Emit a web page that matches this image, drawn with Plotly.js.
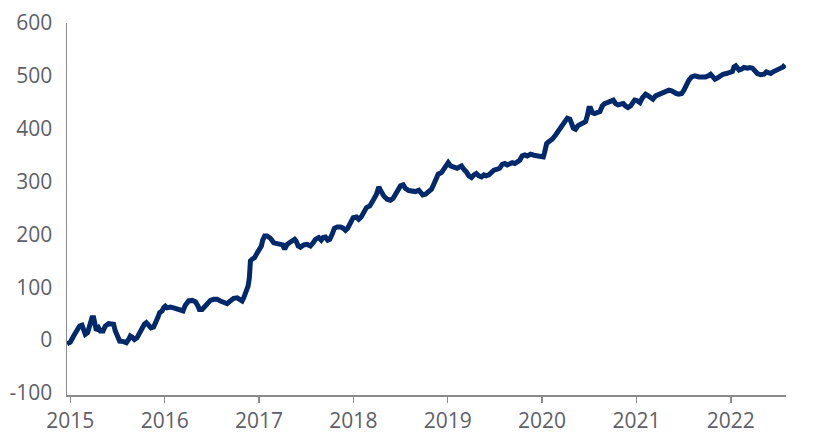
<!DOCTYPE html>
<html>
<head>
<meta charset="utf-8">
<script src="https://cdn.plot.ly/plotly-3.0.1.min.js"></script>
<style>
  html, body { margin: 0; padding: 0; background: #ffffff; }
  #chart { width: 817px; height: 441px; }
</style>
</head>
<body>
<div id="chart"></div>
<script>
// Decimal-year positions of the observations
const years = [
  2014.965, 2015.000, 2015.035, 2015.071, 2015.099, 2015.124, 2015.141, 2015.159, 2015.183, 2015.205,
  2015.230, 2015.247, 2015.265, 2015.276, 2015.300, 2015.318, 2015.347, 2015.371, 2015.406, 2015.442,
  2015.459, 2015.477, 2015.502, 2015.523, 2015.565, 2015.594, 2015.618, 2015.636, 2015.654, 2015.679,
  2015.707, 2015.735, 2015.760, 2015.785, 2015.806, 2015.830, 2015.856, 2015.883, 2015.901, 2015.926,
  2015.947, 2015.972, 2015.989, 2016.007, 2016.025, 2016.060, 2016.095, 2016.131, 2016.166, 2016.195,
  2016.219, 2016.254, 2016.291, 2016.326, 2016.354, 2016.368, 2016.397, 2016.424, 2016.450, 2016.485,
  2016.520, 2016.556, 2016.591, 2016.626, 2016.662, 2016.697, 2016.732, 2016.768, 2016.792, 2016.821,
  2016.838, 2016.856, 2016.884, 2016.898, 2016.909, 2016.927, 2016.954, 2016.980, 2017.004, 2017.025,
  2017.039, 2017.060, 2017.085, 2017.121, 2017.156, 2017.192, 2017.227, 2017.251, 2017.272, 2017.298,
  2017.322, 2017.351, 2017.378, 2017.393, 2017.415, 2017.439, 2017.474, 2017.510, 2017.545, 2017.574,
  2017.598, 2017.633, 2017.659, 2017.680, 2017.704, 2017.728, 2017.750, 2017.775, 2017.799, 2017.828,
  2017.863, 2017.892, 2017.916, 2017.940, 2017.969, 2017.998, 2018.033, 2018.057, 2018.083, 2018.110,
  2018.139, 2018.174, 2018.199, 2018.216, 2018.245, 2018.259, 2018.269, 2018.295, 2018.322, 2018.358,
  2018.393, 2018.422, 2018.446, 2018.471, 2018.499, 2018.528, 2018.552, 2018.587, 2018.623, 2018.658,
  2018.693, 2018.711, 2018.735, 2018.764, 2018.799, 2018.828, 2018.852, 2018.878, 2018.899, 2018.934,
  2018.958, 2018.984, 2019.005, 2019.030, 2019.064, 2019.100, 2019.125, 2019.146, 2019.171, 2019.196,
  2019.224, 2019.252, 2019.277, 2019.302, 2019.330, 2019.358, 2019.383, 2019.408, 2019.436, 2019.464,
  2019.489, 2019.525, 2019.549, 2019.578, 2019.605, 2019.631, 2019.655, 2019.684, 2019.711, 2019.737,
  2019.761, 2019.790, 2019.817, 2019.843, 2019.878, 2019.913, 2019.949, 2019.984, 2020.013, 2020.026,
  2020.048, 2020.072, 2020.108, 2020.143, 2020.178, 2020.214, 2020.238, 2020.267, 2020.295, 2020.310,
  2020.331, 2020.355, 2020.379, 2020.408, 2020.437, 2020.461, 2020.479, 2020.496, 2020.514, 2020.532,
  2020.556, 2020.585, 2020.613, 2020.638, 2020.662, 2020.691, 2020.726, 2020.755, 2020.779, 2020.804,
  2020.832, 2020.861, 2020.885, 2020.910, 2020.938, 2020.956, 2020.981, 2021.010, 2021.037, 2021.062,
  2021.097, 2021.126, 2021.150, 2021.175, 2021.203, 2021.238, 2021.274, 2021.309, 2021.344, 2021.373,
  2021.397, 2021.423, 2021.450, 2021.479, 2021.503, 2021.529, 2021.556, 2021.585, 2021.620, 2021.662,
  2021.698, 2021.733, 2021.762, 2021.786, 2021.811, 2021.832, 2021.857, 2021.882, 2021.917, 2021.953,
  2021.988, 2022.017, 2022.034, 2022.052, 2022.071, 2022.088, 2022.116, 2022.140, 2022.176, 2022.201,
  2022.229, 2022.257, 2022.282, 2022.317, 2022.352, 2022.378, 2022.399, 2022.423, 2022.448, 2022.476,
  2022.505, 2022.529, 2022.554, 2022.575
];

// Series values
const values = [
  -7, -4, 7.6, 17, 26.5, 28, 17, 11, 14, 26.5,
  42, 42, 30, 18, 23, 17, 17, 26.5, 31, 31,
  30, 17, 4, -2, -3, -5, 1, 7.6, 5.7, 1,
  4.4, 14, 22, 30, 33, 26.5, 23, 24.6, 30, 42,
  52, 55, 61, 64, 61, 62.5, 61, 58, 56, 55,
  66, 74, 75, 72.5, 64, 58, 58, 64, 70.6, 75,
  77, 77, 74, 70.6, 68.8, 74, 79, 80, 77, 74,
  80, 89.6, 102, 118, 150, 153, 156, 165, 172, 178,
  189, 197, 197, 192.6, 184, 182.4, 182.4, 180, 172, 181,
  184, 187.5, 190.7, 187.5, 178, 175.5, 180, 181, 178, 184,
  190.7, 194, 189, 194, 195, 189, 190.7, 200, 211.6, 214,
  214, 211.6, 207.7, 211.6, 222, 231.6, 233, 228.6, 233, 243,
  250.6, 253.8, 260, 266.5, 276, 288.5, 289.8, 281, 272.7, 266.5,
  264.6, 268.4, 276, 285.4, 291.7, 293.6, 287, 283, 282, 281,
  283.5, 279, 274.6, 276, 281, 285.4, 295, 306, 314, 317,
  323, 332.6, 335.8, 329.5, 326.4, 325, 327.6, 329.5, 323, 318.8,
  310.6, 307.4, 312.5, 315, 310.6, 308.7, 312.5, 310.6, 312.5, 318.8,
  321.4, 323.3, 325, 332.6, 334, 331.4, 334, 335.8, 334, 335.8,
  340, 348.5, 350.4, 348.5, 351.7, 349.8, 348.5, 346.6, 346.6, 354.8,
  371.8, 375.6, 380, 388, 397, 407, 414.8, 419.9, 418, 408.5,
  401, 399, 405.3, 408.5, 411.6, 413.4, 424, 438.8, 438.8, 430.5,
  428.6, 430.5, 432.4, 443, 447.5, 449.4, 452.7, 454, 447.5, 445,
  446.4, 447.5, 443, 440, 443, 449.4, 454, 452.7, 449.4, 458,
  465.3, 462, 457.8, 455.8, 462, 465.3, 468.4, 470.3, 472.9, 471.6,
  468.4, 466.5, 465.3, 466.5, 472.9, 483, 491.8, 498, 500, 498,
  496.8, 498, 500, 503, 498, 493.7, 495.6, 500, 503, 504.4,
  505.7, 508.2, 517, 519, 514.6, 510.8, 512.7, 515.8, 514.6, 515.8,
  514.6, 509.5, 504.4, 502, 503, 507.6, 506.3, 504.4, 507.6, 509.5,
  510.8, 514.6, 517, 520.8
];

// Axis tick positions and labels
const xTickVals = [2015, 2016, 2017, 2018, 2019, 2020, 2021, 2022];
const xTickText = ["2015", "2016", "2017", "2018", "2019", "2020", "2021", "2022"];
const yTickVals = [-100, 0, 100, 200, 300, 400, 500, 600];
const yTickText = ["-100", "0", "100", "200", "300", "400", "500", "600"];

const textColor = "#5E6068";
const axisColor = "#8A8A8A";

const trace = {
  x: years,
  y: values,
  type: "scatter",
  mode: "lines",
  line: { color: "#00296B", width: 5, shape: "linear" },
  hoverinfo: "x+y"
};

const layout = {
  width: 817,
  height: 441,
  margin: { l: 67, r: 31, t: 23, b: 46 },
  paper_bgcolor: "#ffffff",
  plot_bgcolor: "#ffffff",
  showlegend: false,
  font: { family: "Open Sans, sans-serif", size: 21, color: textColor },
  xaxis: {
    range: [2014.965, 2022.585],
    tickmode: "array",
    tickvals: xTickVals,
    ticktext: xTickText,
    showgrid: false,
    zeroline: false,
    showline: true,
    linecolor: axisColor,
    linewidth: 1.5,
    ticks: "outside",
    ticklen: 6,
    tickwidth: 1.5,
    tickcolor: axisColor,
    tickfont: { family: "Open Sans, sans-serif", size: 21, color: textColor }
  },
  yaxis: {
    range: [-104, 600],
    tickmode: "array",
    tickvals: yTickVals,
    ticktext: yTickText,
    showgrid: false,
    zeroline: false,
    showline: true,
    linecolor: axisColor,
    linewidth: 1.5,
    ticks: "",
    ticklabelstandoff: 9,
    tickfont: { family: "Open Sans, sans-serif", size: 21, color: textColor }
  }
};

Plotly.newPlot("chart", [trace], layout, { displayModeBar: false, staticPlot: true });
</script>
</body>
</html>
